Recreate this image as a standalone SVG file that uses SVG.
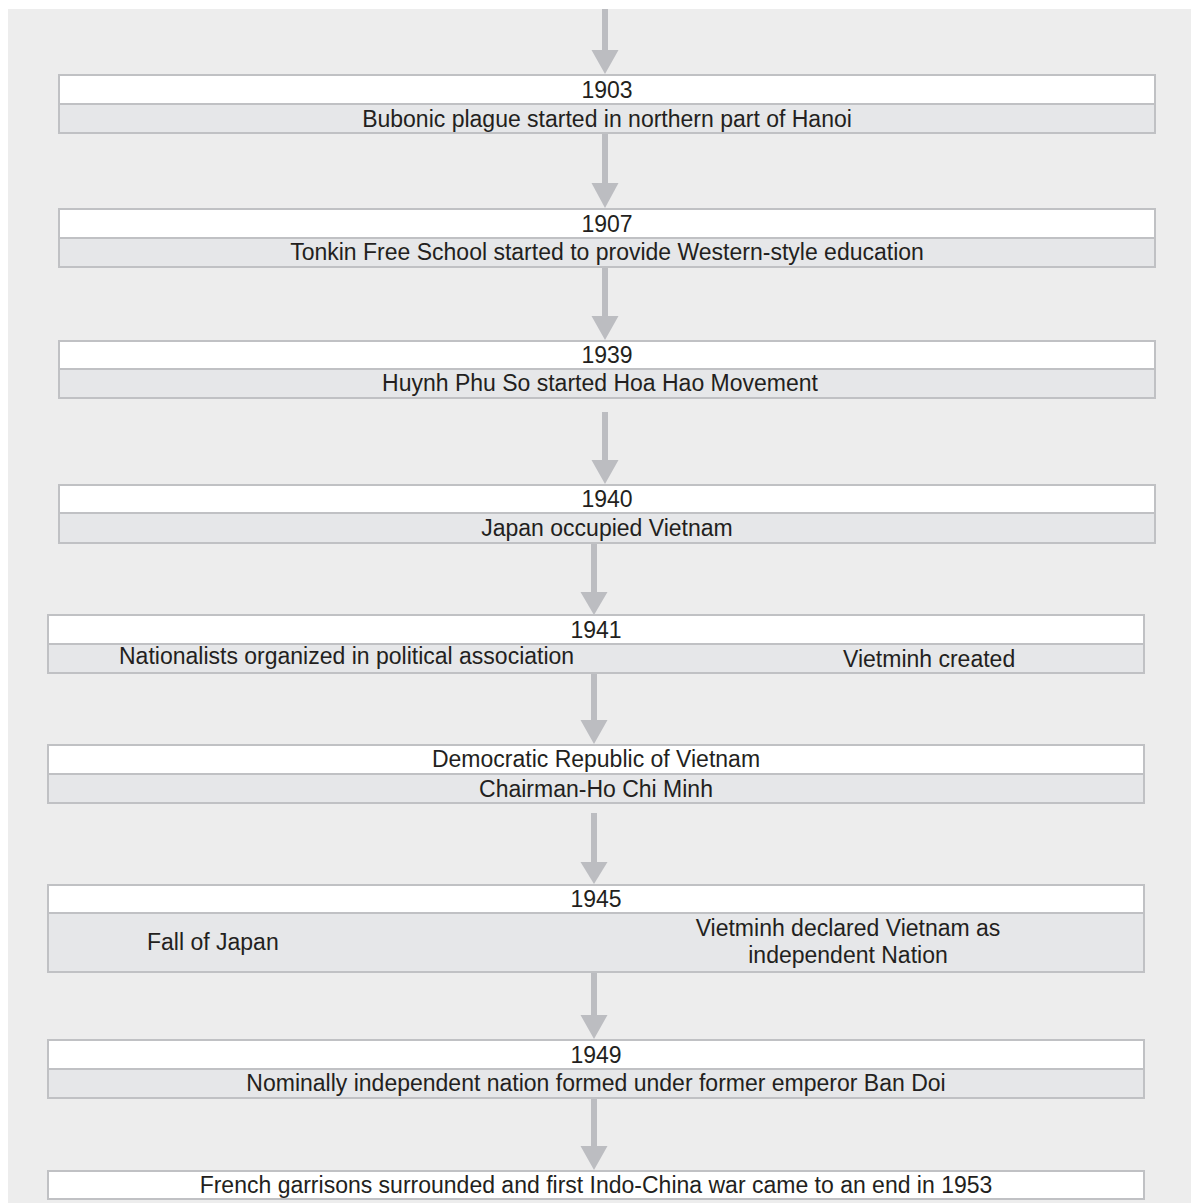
<svg xmlns="http://www.w3.org/2000/svg" width="1191" height="1203" viewBox="0 0 1191 1203">
  <defs>
    <style>
      .panel { fill: #ededed; }
      .top { fill: #ffffff; stroke: #c0c1c4; stroke-width: 2; }
      .bot { fill: #e6e7e9; stroke: #c0c1c4; stroke-width: 2; }
      .shaft { stroke: #bcbdc1; stroke-width: 6; fill: none; }
      .head { fill: #bcbdc1; }
      text { font-family: "Liberation Sans", Arial, sans-serif; font-size: 23px; fill: #231f20; }
      .c { text-anchor: middle; }
    </style>
  </defs>

  <rect class="panel" x="8" y="9" width="1183" height="1194"/>

  <!-- connectors: shaft + triangular head -->
  <g id="connectors">
    <line class="shaft" x1="605" y1="9" x2="605" y2="52"/>
    <polygon class="head" points="591.5,50 618.5,50 605,74"/>
    <line class="shaft" x1="605" y1="134" x2="605" y2="185"/>
    <polygon class="head" points="591.5,183 618.5,183 605,208"/>
    <line class="shaft" x1="605" y1="268" x2="605" y2="318"/>
    <polygon class="head" points="591.5,316 618.5,316 605,340"/>
    <line class="shaft" x1="605" y1="412" x2="605" y2="462"/>
    <polygon class="head" points="591.5,460 618.5,460 605,484"/>
    <line class="shaft" x1="594" y1="543" x2="594" y2="594"/>
    <polygon class="head" points="580.5,592 607.5,592 594,615"/>
    <line class="shaft" x1="594" y1="673" x2="594" y2="722"/>
    <polygon class="head" points="580.5,720 607.5,720 594,744"/>
    <line class="shaft" x1="594" y1="813" x2="594" y2="864"/>
    <polygon class="head" points="580.5,862 607.5,862 594,884"/>
    <line class="shaft" x1="594" y1="973" x2="594" y2="1017"/>
    <polygon class="head" points="580.5,1015 607.5,1015 594,1039"/>
    <line class="shaft" x1="594" y1="1098" x2="594" y2="1148"/>
    <polygon class="head" points="580.5,1146 607.5,1146 594,1170"/>
  </g>

  <g id="node-1903">
    <rect class="top" x="59" y="75" width="1096" height="29"/>
    <rect class="bot" x="59" y="104" width="1096" height="29"/>
    <text class="c" x="607" y="98">1903</text>
    <text class="c" x="607" y="127">Bubonic plague started in northern part of Hanoi</text>
  </g>

  <g id="node-1907">
    <rect class="top" x="59" y="209" width="1096" height="29"/>
    <rect class="bot" x="59" y="238" width="1096" height="29"/>
    <text class="c" x="607" y="232">1907</text>
    <text class="c" x="607" y="260">Tonkin Free School started to provide Western-style education</text>
  </g>

  <g id="node-1939">
    <rect class="top" x="59" y="341" width="1096" height="28"/>
    <rect class="bot" x="59" y="369" width="1096" height="29"/>
    <text class="c" x="607" y="363">1939</text>
    <text class="c" x="600" y="391">Huynh Phu So started Hoa Hao Movement</text>
  </g>

  <g id="node-1940">
    <rect class="top" x="59" y="485" width="1096" height="28"/>
    <rect class="bot" x="59" y="513" width="1096" height="30"/>
    <text class="c" x="607" y="507">1940</text>
    <text class="c" x="607" y="536">Japan occupied Vietnam</text>
  </g>

  <g id="node-1941">
    <rect class="top" x="48" y="615" width="1096" height="29"/>
    <rect class="bot" x="48" y="644" width="1096" height="29"/>
    <text class="c" x="596" y="638">1941</text>
    <text x="119" y="664">Nationalists organized in political association</text>
    <text x="843" y="667">Vietminh created</text>
  </g>

  <g id="node-drv">
    <rect class="top" x="48" y="745" width="1096" height="29"/>
    <rect class="bot" x="48" y="774" width="1096" height="29"/>
    <text class="c" x="596" y="767">Democratic Republic of Vietnam</text>
    <text class="c" x="596" y="797">Chairman-Ho Chi Minh</text>
  </g>

  <g id="node-1945">
    <rect class="top" x="48" y="885" width="1096" height="28"/>
    <rect class="bot" x="48" y="913" width="1096" height="59"/>
    <text class="c" x="596" y="907">1945</text>
    <text x="147" y="950">Fall of Japan</text>
    <text class="c" x="848" y="936">Vietminh declared Vietnam as</text>
    <text class="c" x="848" y="963">independent Nation</text>
  </g>

  <g id="node-1949">
    <rect class="top" x="48" y="1040" width="1096" height="29"/>
    <rect class="bot" x="48" y="1069" width="1096" height="29"/>
    <text class="c" x="596" y="1063">1949</text>
    <text class="c" x="596" y="1091">Nominally independent nation formed under former emperor Ban Doi</text>
  </g>

  <g id="node-1953">
    <rect class="top" x="48" y="1171" width="1096" height="28"/>
    <text class="c" x="596" y="1193">French garrisons surrounded and first Indo-China war came to an end in 1953</text>
  </g>
</svg>
